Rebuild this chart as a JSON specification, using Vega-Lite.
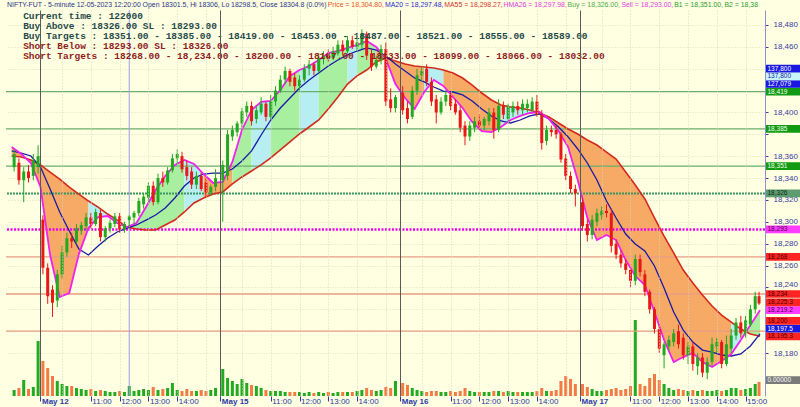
{
"$schema": "https://vega.github.io/schema/vega-lite/v6.json",
"width": 759, "height": 386,
"autosize": {"type": "none"},
"padding": {"left": 6, "top": 10, "right": 35, "bottom": 11},
"background": "#FFFFE1",
"config": {"view": {"stroke": null}, "axis": {"labelFont": "Liberation Sans"}},
"datasets": {
"cd": [
{"t":-11,"o":18350,"h":18366,"l":18346,"c":18362,"v":58800},
{"t":-9,"o":18354,"h":18358,"l":18334,"c":18338,"v":78400},
{"t":-7,"o":18338,"h":18350,"l":18318,"c":18346,"v":156800},
{"t":-5,"o":18346,"h":18352,"l":18336,"c":18340,"v":68600},
{"t":-3,"o":18342,"h":18362,"l":18338,"c":18356,"v":88200},
{"t":-1,"o":18350,"h":18370,"l":18344,"c":18360,"v":539000},
{"t":1,"o":18302,"h":18306,"l":18252,"c":18258,"v":343000},
{"t":3,"o":18258,"h":18262,"l":18225,"c":18232,"v":274400},
{"t":5,"o":18238,"h":18242,"l":18213,"c":18226,"v":196000},
{"t":7,"o":18228,"h":18256,"l":18222,"c":18252,"v":147000},
{"t":9,"o":18252,"h":18278,"l":18248,"c":18272,"v":117600},
{"t":11,"o":18272,"h":18290,"l":18268,"c":18285,"v":98000},
{"t":13,"o":18285,"h":18290,"l":18276,"c":18282,"v":98000},
{"t":15,"o":18282,"h":18298,"l":18280,"c":18294,"v":78400},
{"t":17,"o":18292,"h":18300,"l":18288,"c":18297,"v":68600},
{"t":19,"o":18296,"h":18308,"l":18292,"c":18304,"v":58800},
{"t":21,"o":18304,"h":18308,"l":18294,"c":18298,"v":68600},
{"t":23,"o":18298,"h":18312,"l":18296,"c":18309,"v":49000},
{"t":25,"o":18308,"h":18311,"l":18282,"c":18286,"v":58800},
{"t":27,"o":18286,"h":18296,"l":18282,"c":18294,"v":49000},
{"t":29,"o":18294,"h":18302,"l":18290,"c":18299,"v":39200},
{"t":31,"o":18298,"h":18308,"l":18295,"c":18305,"v":39200},
{"t":33,"o":18305,"h":18308,"l":18290,"c":18293,"v":49000},
{"t":35,"o":18293,"h":18300,"l":18290,"c":18298,"v":39200},
{"t":37,"o":18301.5,"h":18306,"l":18294,"c":18304.8,"v":98000},
{"t":39,"o":18304,"h":18310,"l":18298,"c":18308,"v":49000},
{"t":41,"o":18308,"h":18322,"l":18305,"c":18319,"v":58800},
{"t":43,"o":18316,"h":18326,"l":18312,"c":18323,"v":68600},
{"t":45,"o":18322,"h":18336,"l":18318,"c":18333,"v":58800},
{"t":47,"o":18333,"h":18337,"l":18315,"c":18318,"v":88200},
{"t":49,"o":18318,"h":18344,"l":18316,"c":18340,"v":58800},
{"t":51,"o":18340,"h":18346,"l":18332,"c":18336,"v":68600},
{"t":53,"o":18336,"h":18350,"l":18334,"c":18347,"v":78400},
{"t":55,"o":18347,"h":18362,"l":18345,"c":18358,"v":127400},
{"t":57,"o":18358,"h":18366,"l":18352,"c":18362,"v":58800},
{"t":59,"o":18360,"h":18364,"l":18345,"c":18348,"v":49000},
{"t":61,"o":18350,"h":18356,"l":18338,"c":18342,"v":68600},
{"t":63,"o":18346,"h":18350,"l":18330,"c":18334,"v":49000},
{"t":65,"o":18334,"h":18346,"l":18330,"c":18342,"v":49000},
{"t":67,"o":18342,"h":18345,"l":18328,"c":18330,"v":58800},
{"t":69,"o":18336,"h":18340,"l":18322,"c":18327,"v":49000},
{"t":71,"o":18327,"h":18334,"l":18324,"c":18332,"v":58800},
{"t":73,"o":18332,"h":18348,"l":18328,"c":18340,"v":78400},
{"t":76,"o":18338,"h":18356,"l":18300,"c":18352,"v":264600},
{"t":78,"o":18342,"h":18384,"l":18338,"c":18380,"v":176400},
{"t":80,"o":18378,"h":18388,"l":18374,"c":18384,"v":147000},
{"t":82,"o":18382,"h":18392,"l":18378,"c":18390,"v":117600},
{"t":84,"o":18390,"h":18404,"l":18386,"c":18401,"v":166600},
{"t":86,"o":18400,"h":18410,"l":18396,"c":18406,"v":127400},
{"t":88,"o":18406,"h":18410,"l":18388,"c":18392,"v":107800},
{"t":90,"o":18394,"h":18406,"l":18390,"c":18402,"v":98000},
{"t":92,"o":18400,"h":18414,"l":18398,"c":18408,"v":78400},
{"t":94,"o":18408,"h":18410,"l":18392,"c":18396,"v":58800},
{"t":96,"o":18396,"h":18416,"l":18394,"c":18410,"v":49000},
{"t":98,"o":18410,"h":18424,"l":18406,"c":18420,"v":49000},
{"t":100,"o":18420,"h":18434,"l":18418,"c":18430,"v":49000},
{"t":102,"o":18430,"h":18442,"l":18426,"c":18438,"v":39200},
{"t":104,"o":18438,"h":18440,"l":18424,"c":18428,"v":39200},
{"t":106,"o":18432,"h":18436,"l":18420,"c":18424,"v":39200},
{"t":108,"o":18424,"h":18434,"l":18420,"c":18430,"v":39200},
{"t":110,"o":18430,"h":18444,"l":18428,"c":18440,"v":29400},
{"t":112,"o":18440,"h":18448,"l":18434,"c":18444,"v":39200},
{"t":114,"o":18444,"h":18446,"l":18434,"c":18438,"v":29400},
{"t":116,"o":18438,"h":18454,"l":18436,"c":18450,"v":39200},
{"t":118,"o":18450,"h":18456,"l":18444,"c":18452,"v":29400},
{"t":120,"o":18452,"h":18458,"l":18446,"c":18450,"v":39200},
{"t":122,"o":18450,"h":18460,"l":18448,"c":18456,"v":29400},
{"t":124,"o":18454,"h":18466,"l":18452,"c":18462,"v":39200},
{"t":126,"o":18462,"h":18466,"l":18452,"c":18456,"v":39200},
{"t":128,"o":18456,"h":18470,"l":18454,"c":18466,"v":39200},
{"t":130,"o":18466,"h":18470,"l":18458,"c":18460,"v":39200},
{"t":132,"o":18460,"h":18468,"l":18456,"c":18464,"v":49000},
{"t":134,"o":18462,"h":18476,"l":18458,"c":18472,"v":58800},
{"t":136,"o":18472,"h":18474,"l":18448,"c":18452,"v":78400},
{"t":138,"o":18454,"h":18458,"l":18438,"c":18442,"v":58800},
{"t":140,"o":18442,"h":18452,"l":18440,"c":18448,"v":49000},
{"t":142,"o":18448,"h":18462,"l":18444,"c":18458,"v":58800},
{"t":144,"o":18458,"h":18464,"l":18406,"c":18410,"v":88200},
{"t":146,"o":18412,"h":18422,"l":18400,"c":18404,"v":78400},
{"t":148,"o":18404,"h":18416,"l":18400,"c":18414,"v":147000},
{"t":151,"o":18418,"h":18424,"l":18398,"c":18402,"v":127400},
{"t":153,"o":18404,"h":18410,"l":18390,"c":18394,"v":107800},
{"t":155,"o":18396,"h":18424,"l":18394,"c":18420,"v":78400},
{"t":157,"o":18420,"h":18440,"l":18416,"c":18434,"v":58800},
{"t":159,"o":18434,"h":18442,"l":18428,"c":18438,"v":49000},
{"t":161,"o":18440,"h":18444,"l":18424,"c":18428,"v":39200},
{"t":163,"o":18428,"h":18432,"l":18406,"c":18410,"v":49000},
{"t":165,"o":18412,"h":18416,"l":18390,"c":18400,"v":49000},
{"t":167,"o":18400,"h":18414,"l":18398,"c":18410,"v":39200},
{"t":169,"o":18410,"h":18420,"l":18406,"c":18416,"v":39200},
{"t":171,"o":18416,"h":18418,"l":18402,"c":18406,"v":49000},
{"t":173,"o":18408,"h":18412,"l":18398,"c":18400,"v":39200},
{"t":175,"o":18402,"h":18406,"l":18382,"c":18386,"v":49000},
{"t":177,"o":18388,"h":18392,"l":18370,"c":18378,"v":78400},
{"t":179,"o":18378,"h":18392,"l":18374,"c":18388,"v":49000},
{"t":181,"o":18386,"h":18396,"l":18382,"c":18392,"v":39200},
{"t":183,"o":18392,"h":18398,"l":18384,"c":18388,"v":39200},
{"t":185,"o":18388,"h":18396,"l":18384,"c":18394,"v":39200},
{"t":187,"o":18392,"h":18404,"l":18388,"c":18400,"v":39200},
{"t":189,"o":18400,"h":18404,"l":18376,"c":18384,"v":49000},
{"t":191,"o":18384,"h":18412,"l":18382,"c":18406,"v":49000},
{"t":193,"o":18406,"h":18410,"l":18394,"c":18398,"v":39200},
{"t":195,"o":18394,"h":18408,"l":18390,"c":18406,"v":49000},
{"t":197,"o":18400,"h":18410,"l":18396,"c":18406,"v":39200},
{"t":199,"o":18406,"h":18410,"l":18398,"c":18402,"v":39200},
{"t":201,"o":18402,"h":18412,"l":18398,"c":18408,"v":39200},
{"t":203,"o":18404,"h":18412,"l":18400,"c":18408,"v":39200},
{"t":205,"o":18402,"h":18414,"l":18400,"c":18410,"v":39200},
{"t":207,"o":18410,"h":18416,"l":18396,"c":18398,"v":49000},
{"t":209,"o":18398,"h":18402,"l":18366,"c":18372,"v":78400},
{"t":211,"o":18374,"h":18388,"l":18370,"c":18384,"v":49000},
{"t":213,"o":18384,"h":18388,"l":18378,"c":18382,"v":49000},
{"t":215,"o":18384,"h":18388,"l":18376,"c":18380,"v":58800},
{"t":217,"o":18380,"h":18382,"l":18354,"c":18357,"v":147000},
{"t":219,"o":18358,"h":18362,"l":18338,"c":18342,"v":196000},
{"t":221,"o":18342,"h":18346,"l":18326,"c":18330,"v":166600},
{"t":223,"o":18330,"h":18334,"l":18314,"c":18326,"v":117600},
{"t":226,"o":18318,"h":18322,"l":18292,"c":18296,"v":117600},
{"t":228,"o":18298,"h":18302,"l":18282,"c":18288,"v":88200},
{"t":230,"o":18288,"h":18306,"l":18284,"c":18302,"v":68600},
{"t":232,"o":18300,"h":18312,"l":18296,"c":18308,"v":49000},
{"t":234,"o":18306,"h":18314,"l":18302,"c":18310,"v":49000},
{"t":236,"o":18310,"h":18316,"l":18304,"c":18308,"v":58800},
{"t":238,"o":18308,"h":18312,"l":18272,"c":18278,"v":68600},
{"t":240,"o":18280,"h":18284,"l":18266,"c":18270,"v":78400},
{"t":242,"o":18270,"h":18274,"l":18258,"c":18262,"v":58800},
{"t":244,"o":18262,"h":18266,"l":18252,"c":18256,"v":68600},
{"t":246,"o":18256,"h":18258,"l":18240,"c":18246,"v":98000},
{"t":248,"o":18246,"h":18270,"l":18242,"c":18266,"v":744800},
{"t":250,"o":18266,"h":18270,"l":18250,"c":18254,"v":117600},
{"t":252,"o":18252,"h":18256,"l":18232,"c":18236,"v":98000},
{"t":254,"o":18236,"h":18238,"l":18216,"c":18220,"v":176400},
{"t":256,"o":18220,"h":18222,"l":18198,"c":18202,"v":215600},
{"t":258,"o":18202,"h":18206,"l":18180,"c":18184,"v":156800},
{"t":260,"o":18178,"h":18190,"l":18166,"c":18188,"v":117600},
{"t":262,"o":18186,"h":18196,"l":18182,"c":18192,"v":78400},
{"t":264,"o":18190,"h":18202,"l":18186,"c":18198,"v":58800},
{"t":266,"o":18200,"h":18206,"l":18184,"c":18188,"v":68600},
{"t":268,"o":18194,"h":18198,"l":18174,"c":18178,"v":58800},
{"t":270,"o":18178,"h":18190,"l":18170,"c":18186,"v":49000},
{"t":272,"o":18186,"h":18190,"l":18164,"c":18170,"v":58800},
{"t":274,"o":18168,"h":18180,"l":18160,"c":18176,"v":49000},
{"t":276,"o":18176,"h":18180,"l":18158,"c":18162,"v":58800},
{"t":278,"o":18162,"h":18176,"l":18156,"c":18172,"v":49000},
{"t":280,"o":18172,"h":18194,"l":18168,"c":18188,"v":49000},
{"t":282,"o":18186,"h":18194,"l":18180,"c":18190,"v":58800},
{"t":284,"o":18190,"h":18192,"l":18166,"c":18170,"v":49000},
{"t":286,"o":18170,"h":18196,"l":18168,"c":18188,"v":58800},
{"t":288,"o":18184,"h":18202,"l":18180,"c":18196,"v":78400},
{"t":290,"o":18196,"h":18212,"l":18192,"c":18208,"v":78400},
{"t":292,"o":18208,"h":18214,"l":18194,"c":18198,"v":58800},
{"t":294,"o":18198,"h":18214,"l":18194,"c":18210,"v":68600},
{"t":296,"o":18206,"h":18224,"l":18204,"c":18220,"v":78400},
{"t":298,"o":18220,"h":18236,"l":18216,"c":18232,"v":117600},
{"t":299.6,"o":18232,"h":18236,"l":18224,"c":18225.3,"v":137800}
],
"ma": [
{"t":-12,"a":18364.8,"b":18360.2,"m":18368.4,"f":"o","s":1},
{"t":-8,"a":18362.9,"b":18359.3,"m":18362.0,"f":"o","s":1},
{"t":-4,"a":18360.2,"b":18356.5,"m":18353.8,"f":"o","s":1},
{"t":0,"a":18350.1,"b":18352.0,"m":18331.8,"f":"o","s":1},
{"t":4,"a":18330.0,"b":18345.5,"m":18269.6,"f":"o","s":1},
{"t":8,"a":18309.0,"b":18339.1,"m":18231.2,"f":"o","s":1},
{"t":12,"a":18291.6,"b":18331.8,"m":18234.9,"f":"o","s":1},
{"t":16,"a":18275.1,"b":18325.4,"m":18270.5,"f":"o","s":1},
{"t":20,"a":18269.6,"b":18319.0,"m":18294.3,"f":"o","s":1},
{"t":20,"a":18269.6,"b":18319.0,"m":18294.3,"f":"c","s":2},
{"t":24,"a":18277.9,"b":18313.5,"m":18304.4,"f":"c","s":2},
{"t":28,"a":18285.2,"b":18307.1,"m":18305.3,"f":"c","s":2},
{"t":32,"a":18290.7,"b":18301.6,"m":18298.9,"f":"c","s":2},
{"t":36,"a":18294.3,"b":18295.2,"m":18295.2,"f":"c","s":2},
{"t":36,"a":18294.3,"b":18295.2,"m":18295.2,"f":"g","s":3},
{"t":40,"a":18297.1,"b":18293.4,"m":18298.9,"f":"g","s":3},
{"t":44,"a":18301.6,"b":18292.5,"m":18313.5,"f":"g","s":3},
{"t":48,"a":18306.2,"b":18292.5,"m":18329.1,"f":"g","s":3},
{"t":52,"a":18312.6,"b":18297.1,"m":18341.9,"f":"g","s":3},
{"t":56,"a":18321.8,"b":18301.6,"m":18352.0,"f":"g","s":3},
{"t":60,"a":18332.7,"b":18309.0,"m":18356.5,"f":"g","s":3},
{"t":60,"a":18332.7,"b":18309.0,"m":18356.5,"f":"c","s":4},
{"t":64,"a":18340.1,"b":18317.2,"m":18352.9,"f":"c","s":4},
{"t":68,"a":18343.7,"b":18321.8,"m":18343.7,"f":"c","s":4},
{"t":68,"a":18343.7,"b":18321.8,"m":18343.7,"f":"o","s":5},
{"t":72,"a":18344.6,"b":18325.4,"m":18335.5,"f":"o","s":5},
{"t":76,"a":18344.6,"b":18327.3,"m":18336.4,"f":"o","s":5},
{"t":80,"a":18348.3,"b":18334.6,"m":18354.7,"f":"o","s":5},
{"t":80,"a":18348.3,"b":18334.6,"m":18354.7,"f":"g","s":6},
{"t":84,"a":18355.6,"b":18341.0,"m":18384.0,"f":"g","s":6},
{"t":88,"a":18364.8,"b":18346.5,"m":18402.3,"f":"g","s":6},
{"t":88,"a":18364.8,"b":18346.5,"m":18402.3,"f":"c","s":7},
{"t":92,"a":18379.4,"b":18352.0,"m":18409.6,"f":"c","s":7},
{"t":96,"a":18393.1,"b":18358.4,"m":18410.5,"f":"c","s":7},
{"t":96,"a":18393.1,"b":18358.4,"m":18410.5,"f":"g","s":8},
{"t":100,"a":18404.1,"b":18365.7,"m":18420.5,"f":"g","s":8},
{"t":104,"a":18413.2,"b":18373.0,"m":18433.4,"f":"g","s":8},
{"t":108,"a":18422.4,"b":18380.3,"m":18438.8,"f":"g","s":8},
{"t":108,"a":18422.4,"b":18380.3,"m":18438.8,"f":"c","s":9},
{"t":112,"a":18429.7,"b":18386.7,"m":18442.5,"f":"c","s":9},
{"t":116,"a":18436.1,"b":18393.1,"m":18448.0,"f":"c","s":9},
{"t":116,"a":18436.1,"b":18393.1,"m":18448.0,"f":"g","s":10},
{"t":120,"a":18442.5,"b":18403.2,"m":18454.4,"f":"g","s":10},
{"t":124,"a":18448.0,"b":18414.1,"m":18456.2,"f":"g","s":10},
{"t":128,"a":18452.6,"b":18426.0,"m":18459.0,"f":"g","s":10},
{"t":128,"a":18452.6,"b":18426.0,"m":18459.0,"f":"c","s":11},
{"t":132,"a":18456.2,"b":18433.4,"m":18461.7,"f":"c","s":11},
{"t":132,"a":18456.2,"b":18433.4,"m":18461.7,"f":"g","s":12},
{"t":136,"a":18459.0,"b":18438.8,"m":18465.4,"f":"g","s":12},
{"t":140,"a":18457.1,"b":18446.2,"m":18459.9,"f":"g","s":12},
{"t":140,"a":18457.1,"b":18446.2,"m":18459.9,"f":"o","s":13},
{"t":144,"a":18451.6,"b":18449.8,"m":18448.9,"f":"o","s":13},
{"t":148,"a":18444.3,"b":18447.1,"m":18426.0,"f":"o","s":13},
{"t":152,"a":18437.9,"b":18444.3,"m":18413.2,"f":"o","s":13},
{"t":156,"a":18431.5,"b":18442.5,"m":18403.2,"f":"o","s":13},
{"t":160,"a":18427.9,"b":18441.6,"m":18418.7,"f":"o","s":13},
{"t":160,"a":18427.9,"b":18441.6,"m":18418.7,"f":"c","s":14},
{"t":164,"a":18423.3,"b":18440.7,"m":18429.7,"f":"c","s":14},
{"t":168,"a":18419.6,"b":18438.8,"m":18424.2,"f":"c","s":14},
{"t":168,"a":18419.6,"b":18438.8,"m":18424.2,"f":"o","s":15},
{"t":172,"a":18418.7,"b":18436.1,"m":18414.1,"f":"o","s":15},
{"t":176,"a":18416.0,"b":18431.5,"m":18404.1,"f":"o","s":15},
{"t":180,"a":18410.5,"b":18425.1,"m":18391.3,"f":"o","s":15},
{"t":184,"a":18403.2,"b":18417.8,"m":18383.0,"f":"o","s":15},
{"t":188,"a":18396.8,"b":18411.4,"m":18382.1,"f":"o","s":15},
{"t":192,"a":18392.2,"b":18406.8,"m":18386.7,"f":"o","s":15},
{"t":192,"a":18392.2,"b":18406.8,"m":18386.7,"f":"c","s":16},
{"t":196,"a":18390.4,"b":18405.0,"m":18393.1,"f":"c","s":16},
{"t":200,"a":18393.1,"b":18404.1,"m":18396.8,"f":"c","s":16},
{"t":204,"a":18396.8,"b":18402.3,"m":18399.5,"f":"c","s":16},
{"t":208,"a":18398.6,"b":18399.5,"m":18400.4,"f":"c","s":16},
{"t":208,"a":18398.6,"b":18399.5,"m":18400.4,"f":"o","s":17},
{"t":212,"a":18394.0,"b":18395.9,"m":18394.0,"f":"o","s":17},
{"t":216,"a":18386.7,"b":18390.4,"m":18383.0,"f":"o","s":17},
{"t":220,"a":18377.6,"b":18384.9,"m":18368.4,"f":"o","s":17},
{"t":224,"a":18366.6,"b":18380.3,"m":18338.2,"f":"o","s":17},
{"t":228,"a":18353.8,"b":18374.8,"m":18303.5,"f":"o","s":17},
{"t":232,"a":18338.2,"b":18370.2,"m":18283.3,"f":"o","s":17},
{"t":236,"a":18319.0,"b":18363.8,"m":18287.9,"f":"o","s":17},
{"t":240,"a":18303.5,"b":18357.4,"m":18283.3,"f":"o","s":17},
{"t":244,"a":18288.8,"b":18345.5,"m":18265.0,"f":"o","s":17},
{"t":248,"a":18279.7,"b":18333.7,"m":18250.4,"f":"o","s":17},
{"t":252,"a":18273.3,"b":18320.9,"m":18242.2,"f":"o","s":17},
{"t":256,"a":18259.6,"b":18303.5,"m":18217.5,"f":"o","s":17},
{"t":260,"a":18239.4,"b":18287.0,"m":18191.9,"f":"o","s":17},
{"t":264,"a":18217.5,"b":18271.5,"m":18171.8,"f":"o","s":17},
{"t":268,"a":18201.0,"b":18255.9,"m":18176.3,"f":"o","s":17},
{"t":272,"a":18190.0,"b":18244.0,"m":18180.0,"f":"o","s":17},
{"t":276,"a":18182.7,"b":18233.0,"m":18171.8,"f":"o","s":17},
{"t":280,"a":18180.9,"b":18223.0,"m":18167.2,"f":"o","s":17},
{"t":284,"a":18178.2,"b":18214.7,"m":18172.7,"f":"o","s":17},
{"t":288,"a":18177.3,"b":18208.3,"m":18179.1,"f":"o","s":17},
{"t":288,"a":18177.3,"b":18208.3,"m":18179.1,"f":"c","s":18},
{"t":292,"a":18179.1,"b":18201.9,"m":18191.9,"f":"c","s":18},
{"t":292,"a":18179.1,"b":18201.9,"m":18191.9,"f":"g","s":19},
{"t":296,"a":18186.4,"b":18197.4,"m":18205.6,"f":"g","s":19},
{"t":300,"a":18197.5,"b":18195.3,"m":18219.2,"f":"g","s":19}
],
"lv": [
{"p":18419,"k":"t"},{"p":18385,"k":"t"},{"p":18351,"k":"t"},
{"p":18326,"k":"b"},{"p":18293,"k":"s"},
{"p":18268,"k":"st"},{"p":18234,"k":"st"},{"p":18200,"k":"st"}
],
"tags": [
{"txt":"0.00000","p":18155.3,"k":"gy"},
{"txt":"18,195.3","p":18195.3,"k":"rd"},
{"txt":"18,197.5","p":18197.5,"k":"bl"},
{"txt":"18,200","p":18200,"k":"rd"},
{"txt":"18,219.2","p":18219.2,"k":"mg"},
{"txt":"18,225.3","p":18225.3,"k":"rd"},
{"txt":"18,234","p":18234,"k":"rd"},
{"txt":"18,268","p":18268,"k":"rd"},
{"txt":"18,293","p":18293,"k":"mg"},
{"txt":"18,326","p":18326,"k":"bu"},
{"txt":"18,351","p":18351,"k":"g"},
{"txt":"18,385","p":18385,"k":"g"},
{"txt":"18,419","p":18419,"k":"g"},
{"txt":"127,079","p":18419.1,"k":"bl"},
{"txt":"137,800","p":18419.2,"k":"cy"},
{"txt":"137,800","p":18419.3,"k":"bl"}
]
},
"layer": [
{"data": {"name": "cd"},
 "mark": {"type": "bar", "width": 3},
 "encoding": {
  "x": {"field": "t", "type": "quantitative", "scale": {"domain": [-12.3, 300], "nice": false, "zero": false}, "axis": null},
  "y": {"field": "v", "type": "quantitative", "scale": {"domain": [0, 3782800], "nice": false}, "axis": null},
  "color": {"condition": {"test": "datum.c >= datum.o", "value": "#22AA22"}, "value": "#F27A45"}
 }},
{"resolve": {"scale": {"color": "independent"}, "axis": {"x": "independent", "y": "independent"}},
 "layer": [
 {"data": {"name": "ma"},
  "mark": {"type": "area", "opacity": 1},
  "encoding": {
   "x": {"field": "t", "type": "quantitative", "scale": {"domain": [-12.3, 300], "nice": false, "zero": false}, "axis": null},
   "y": {"field": "b", "type": "quantitative", "stack": null, "scale": {"domain": [18140.7, 18493.7], "nice": false, "zero": false}, "axis": null},
   "y2": {"field": "m"},
   "color": {"field": "f", "type": "nominal", "scale": {"domain": ["o", "c", "g"], "range": ["#F7AA66", "#B6EEF2", "#A8F0A0"]}, "legend": null},
   "detail": {"field": "s", "type": "nominal"}
  }},
 {"data": {"name": "lv"}, "transform": [{"filter": "datum.k === 't'"}],
  "mark": {"type": "rule", "color": "#6CAE6C", "strokeWidth": 1.2},
  "encoding": {"y": {"field": "p", "type": "quantitative", "scale": {"domain": [18140.7, 18493.7], "nice": false, "zero": false}, "axis": null}}},
 {"data": {"name": "lv"}, "transform": [{"filter": "datum.k === 'b'"}],
  "mark": {"type": "rule", "color": "#3C9460", "strokeWidth": 2, "strokeDash": [2, 1]},
  "encoding": {"y": {"field": "p", "type": "quantitative", "scale": {"domain": [18140.7, 18493.7], "nice": false, "zero": false}, "axis": null}}},
 {"data": {"name": "lv"}, "transform": [{"filter": "datum.k === 's'"}],
  "mark": {"type": "rule", "color": "#F000F0", "strokeWidth": 2.5, "strokeDash": [2, 1.5]},
  "encoding": {"y": {"field": "p", "type": "quantitative", "scale": {"domain": [18140.7, 18493.7], "nice": false, "zero": false}, "axis": null}}},
 {"data": {"name": "lv"}, "transform": [{"filter": "datum.k === 'st'"}],
  "mark": {"type": "rule", "color": "#E89C84", "strokeWidth": 1.3},
  "encoding": {"y": {"field": "p", "type": "quantitative", "scale": {"domain": [18140.7, 18493.7], "nice": false, "zero": false}, "axis": null}}},
 {"data": {"values": [{"t": 37}]},
  "mark": {"type": "rule", "color": "#9C9CE8", "strokeWidth": 1},
  "encoding": {"x": {"field": "t", "type": "quantitative", "scale": {"domain": [-12.3, 300], "nice": false, "zero": false}, "axis": null}}},
 {"data": {"name": "ma"},
  "mark": {"type": "line", "color": "#D42A1E", "strokeWidth": 1.6},
  "encoding": {
   "x": {"field": "t", "type": "quantitative", "scale": {"domain": [-12.3, 300], "nice": false, "zero": false}, "axis": null},
   "y": {"field": "b", "type": "quantitative", "scale": {"domain": [18140.7, 18493.7], "nice": false, "zero": false}, "axis": null}
  }},
 {"data": {"name": "ma"},
  "mark": {"type": "line", "color": "#1A1AA8", "strokeWidth": 1.3},
  "encoding": {
   "x": {"field": "t", "type": "quantitative", "scale": {"domain": [-12.3, 300], "nice": false, "zero": false}, "axis": null},
   "y": {"field": "a", "type": "quantitative", "scale": {"domain": [18140.7, 18493.7], "nice": false, "zero": false}, "axis": null}
  }},
 {"data": {"name": "ma"},
  "mark": {"type": "line", "color": "#F020F0", "strokeWidth": 1.8},
  "encoding": {
   "x": {"field": "t", "type": "quantitative", "scale": {"domain": [-12.3, 300], "nice": false, "zero": false}, "axis": null},
   "y": {"field": "m", "type": "quantitative", "scale": {"domain": [18140.7, 18493.7], "nice": false, "zero": false}, "axis": null}
  }},
 {"data": {"name": "cd"},
  "mark": {"type": "rule", "strokeWidth": 1},
  "encoding": {
   "x": {"field": "t", "type": "quantitative", "scale": {"domain": [-12.3, 300], "nice": false, "zero": false},
    "axis": {"orient": "bottom", "title": null, "domain": false, "zindex": 1,
     "values": [0,9,21,33,45,57,69,75,84,96,108,120,132,144,150,159,171,183,195,207,219,225,234,246,258,270,282,294],
     "labelExpr": "datum.value % 75 === 0 ? ['May 12','May 15','May 16','May 17'][datum.value / 75] : ((datum.value % 75 === 9 || (datum.value % 75 === 69 && datum.value < 225)) ? '' : ['11:00','12:00','13:00','14:00','15:00'][(datum.value % 75 - 21) / 12])",
     "labelAlign": "left", "labelBaseline": "top", "labelPadding": -4, "labelOffset": 1,
     "labelFontSize": 8, "labelColor": "#2A3AA8",
     "labelFontWeight": {"condition": {"test": "datum.value % 75 === 0", "value": "bold"}, "value": "normal"},
     "labelOverlap": false, "labelFlush": false, "labelBound": false,
     "tickSize": 5,
     "tickColor": {"condition": {"test": "datum.value % 75 === 9 || (datum.value % 75 === 69 && datum.value < 225)", "value": "transparent"}, "value": "#2A3AA8"},
     "grid": true,
     "gridColor": {"condition": {"test": "datum.value % 75 === 0", "value": "#5A5A5A"}, "value": "#D6D6BE"},
     "gridDash": {"condition": {"test": "datum.value % 75 === 0", "value": []}, "value": [1, 2]}
    }},
   "y": {"field": "l", "type": "quantitative", "scale": {"domain": [18140.7, 18493.7], "nice": false, "zero": false},
    "axis": {"orient": "right", "title": null,
     "values": [18180,18200,18220,18240,18260,18280,18300,18320,18340,18360,18380,18400,18420,18440,18460,18480],
     "labelExpr": "indexof([18440, 18420, 18380, 18220, 18200], datum.value) >= 0 ? '' : format(datum.value, ',d')",
     "labelOffset": {"condition": {"test": "datum.value === 18240", "value": -2.5}, "value": 0},
     "labelFontSize": 8, "labelColor": "#3A3AA6", "labelPadding": 5, "tickSize": 3, "tickColor": "#3A3AA6",
     "domainColor": "#9090D0", "grid": true, "gridColor": "#DCDCC6", "gridDash": [1, 2]}},
   "y2": {"field": "h"},
   "color": {"condition": {"test": "datum.c >= datum.o", "value": "#22A822"}, "value": "#E81818"}
  }},
 {"data": {"name": "cd"},
  "mark": {"type": "bar", "width": 3},
  "encoding": {
   "x": {"field": "t", "type": "quantitative", "scale": {"domain": [-12.3, 300], "nice": false, "zero": false}, "axis": null},
   "y": {"field": "o", "type": "quantitative", "scale": {"domain": [18140.7, 18493.7], "nice": false, "zero": false}, "axis": null},
   "y2": {"field": "c"},
   "color": {"condition": {"test": "datum.c >= datum.o", "value": "#22A822"}, "value": "#E81818"}
  }},
 {"data": {"values": [
   {"x": -7.24, "y": 18487.9, "txt": "Current time : 122000", "g": "b"},
   {"x": -7.24, "y": 18478.8, "txt": "Buy Above : 18326.00 SL : 18293.00", "g": "b"},
   {"x": -7.24, "y": 18469.6, "txt": "Buy Targets : 18351.00 - 18385.00 - 18419.00 - 18453.00 - 18487.00 - 18521.00 - 18555.00 - 18589.00", "g": "b"},
   {"x": -7.24, "y": 18460.5, "txt": "Short Below : 18293.00 SL : 18326.00", "g": "s"},
   {"x": -7.24, "y": 18451.4, "txt": "Short Targets : 18268.00 - 18,234.00 - 18200.00 - 18167.00 - 18133.00 - 18099.00 - 18066.00 - 18032.00", "g": "s"}
  ]},
  "mark": {"type": "text", "align": "left", "baseline": "middle", "font": "Liberation Mono", "fontSize": 9.5, "fontWeight": "bold"},
  "encoding": {
   "x": {"field": "x", "type": "quantitative", "scale": {"domain": [-12.3, 300], "nice": false, "zero": false}, "axis": null},
   "y": {"field": "y", "type": "quantitative", "scale": {"domain": [18140.7, 18493.7], "nice": false, "zero": false}, "axis": null},
   "text": {"field": "txt"},
   "color": {"field": "g", "type": "nominal", "scale": {"domain": ["b", "s"], "range": ["#1F4A4A", "#8E1C1C"]}, "legend": null}
  }},
 {"data": {"values": [
   {"x": -13.95, "txt": "NIFTY-FUT - 5-minute 12-05-2023 12:20:00 Open 18301.5, Hi 18306, Lo 18298.5, Close 18304.8 (0.0%)", "g": "h"},
   {"x": 119.78, "txt": "Price = 18,304.80,", "g": "p"},
   {"x": 143.65, "txt": "MA20 = 18,297.48,", "g": "a"},
   {"x": 168.34, "txt": "MA55 = 18,298.27,", "g": "b"},
   {"x": 193.03, "txt": "HMA26 = 18,297.98,", "g": "m"},
   {"x": 219.77, "txt": "Buy = 18,326.00,", "g": "u"},
   {"x": 242.2, "txt": "Sell = 18,293.00,", "g": "m"},
   {"x": 264.21, "txt": "B1 = 18,351.00,", "g": "k"},
   {"x": 285.2, "txt": "B2 = 18,38", "g": "k"}
  ]},
  "mark": {"type": "text", "align": "left", "baseline": "middle", "font": "Liberation Sans", "fontSize": 6.9},
  "encoding": {
   "x": {"field": "x", "type": "quantitative", "scale": {"domain": [-12.3, 300], "nice": false, "zero": false}, "axis": null},
   "y": {"datum": 18498.3, "type": "quantitative", "scale": {"domain": [18140.7, 18493.7], "nice": false, "zero": false}, "axis": null},
   "text": {"field": "txt"},
   "color": {"field": "g", "type": "nominal", "scale": {"domain": ["h", "p", "a", "b", "m", "u", "k"], "range": ["#28338A", "#E8502A", "#2A2ACC", "#D43030", "#E03CE0", "#4CA84C", "#2E9A2E"]}, "legend": null}
  }},
 {"data": {"name": "tags"},
  "transform": [
   {"window": [{"op": "row_number", "as": "i"}], "sort": [{"field": "p", "order": "ascending"}]},
   {"calculate": "datum.p - datum.i * 7.04", "as": "u"},
   {"window": [{"op": "max", "field": "u", "as": "mu"}], "sort": [{"field": "p", "order": "ascending"}], "frame": [null, 0]},
   {"calculate": "datum.mu + datum.i * 7.04", "as": "q"}
  ],
  "layer": [
   {"mark": {"type": "point", "shape": "M-1,-0.2265L1,-0.2265L1,0.2265L-1,0.2265Z", "size": 1156, "filled": true, "opacity": 1, "strokeWidth": 0, "x": "width", "xOffset": 18},
    "encoding": {
     "y": {"field": "q", "type": "quantitative", "scale": {"domain": [18140.7, 18493.7], "nice": false, "zero": false}, "axis": null},
     "color": {"field": "k", "type": "nominal", "scale": {"domain": ["bl", "cy", "g", "bu", "mg", "rd", "gy"], "range": ["#1818E0", "#C8F4FC", "#129A12", "#5C9C70", "#FF3CFF", "#FF2424", "#7A7A7A"]}, "legend": null}
    }},
   {"mark": {"type": "text", "x": "width", "xOffset": 2.5, "align": "left", "baseline": "middle", "font": "Liberation Sans", "fontSize": 6.5},
    "encoding": {
     "y": {"field": "q", "type": "quantitative", "scale": {"domain": [18140.7, 18493.7], "nice": false, "zero": false}, "axis": null},
     "text": {"field": "txt"},
     "color": {"field": "k", "type": "nominal", "scale": {"domain": ["bl", "cy", "g", "bu", "mg", "rd", "gy"], "range": ["#FFFFFF", "#1818A0", "#F0FFF0", "#102A10", "#4A004A", "#4A0000", "#FFFFFF"]}, "legend": null}
    }}
  ],
  "resolve": {"scale": {"color": "independent"}}
 }
 ]}
],
"resolve": {"scale": {"y": "independent"}, "axis": {"x": "independent", "y": "independent"}}
}
